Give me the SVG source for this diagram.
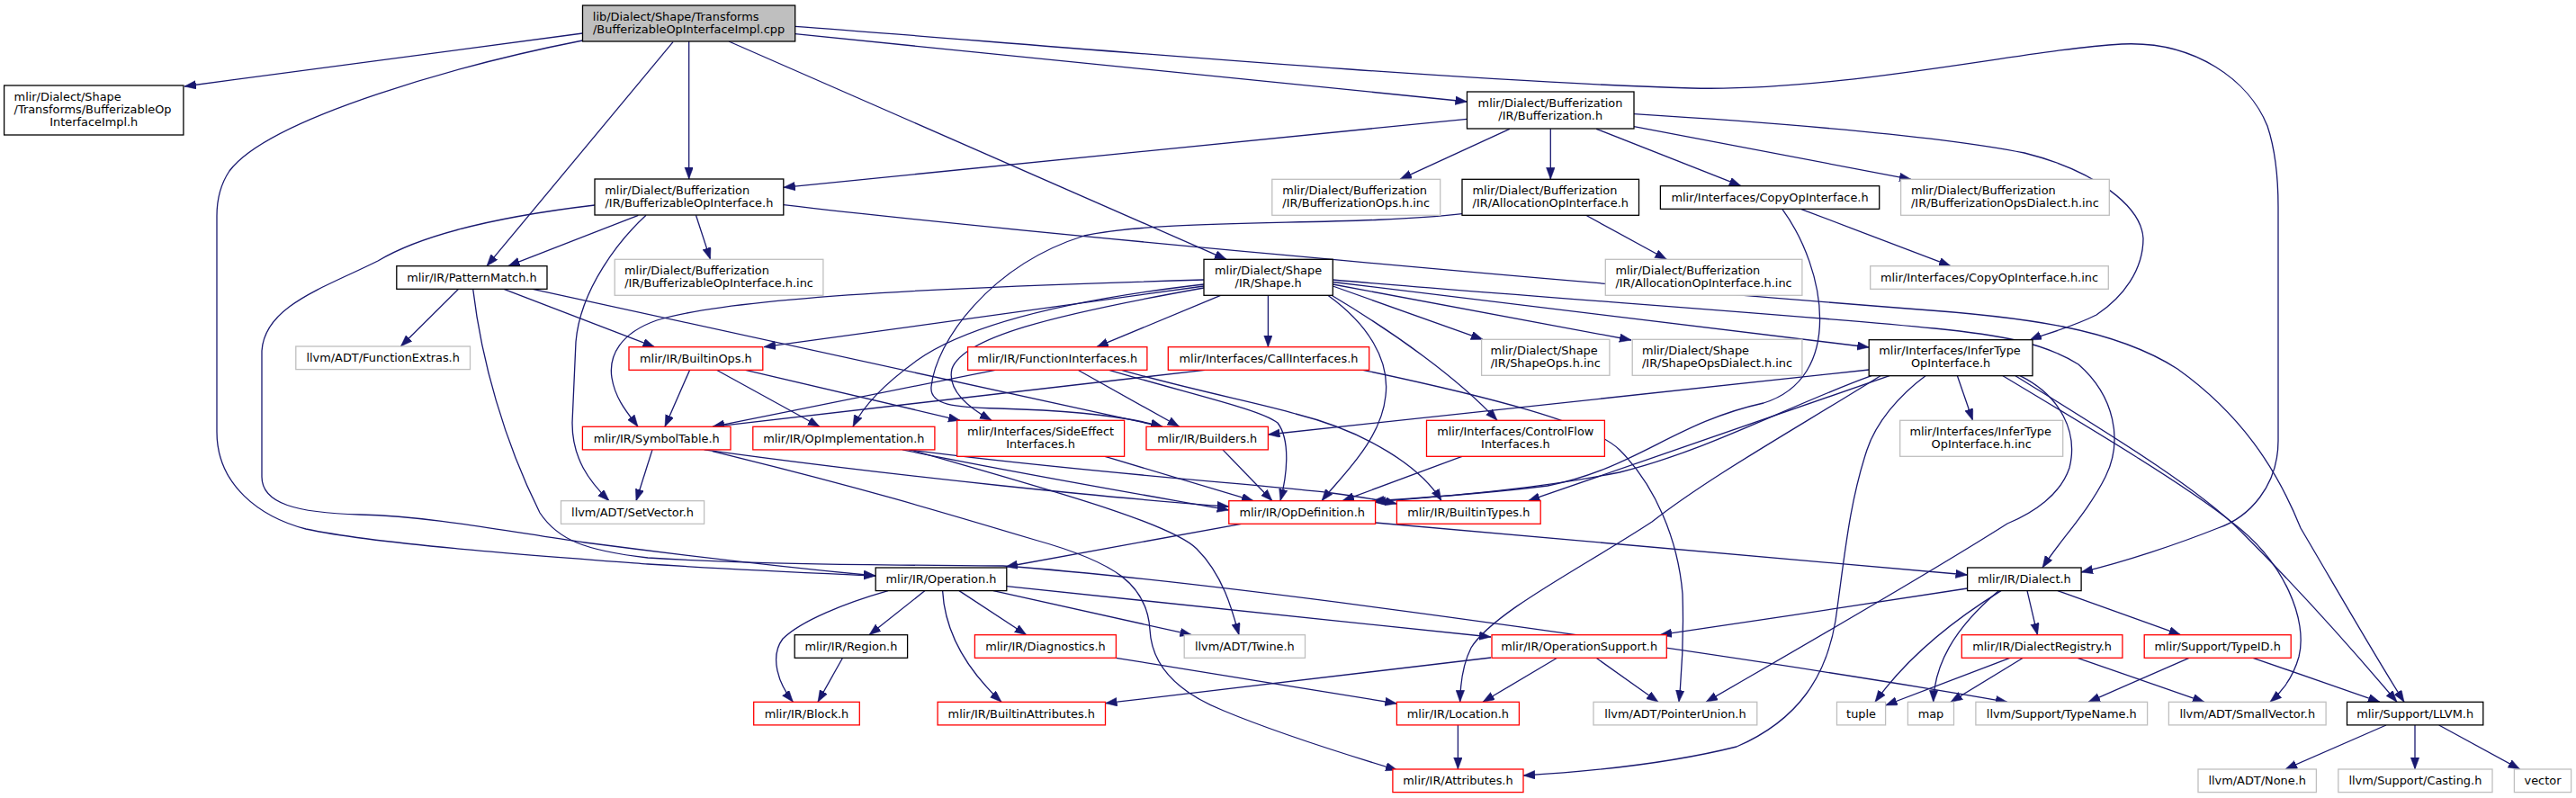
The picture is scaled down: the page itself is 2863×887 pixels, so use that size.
<svg xmlns="http://www.w3.org/2000/svg" width="2863" height="887" viewBox="0 0 2863 887">
<style>
rect.b{fill:#fff;stroke:#000;stroke-width:1.3}
rect.r{fill:#fff;stroke:#ff0000;stroke-width:1.3}
rect.g{fill:#fff;stroke:#bfbfbf;stroke-width:1.3}
rect.root{fill:#bfbfbf;stroke:#000;stroke-width:1.3}
text{font-family:"DejaVu Sans","Liberation Sans",sans-serif;font-size:12.9px;fill:#000}
text.c{text-anchor:middle}
.e path{fill:none;stroke:#191970;stroke-width:1.3;marker-end:url(#ah)}
</style>
<defs>
<marker id="ah" markerUnits="userSpaceOnUse" markerWidth="13" markerHeight="10" refX="13" refY="4.75" orient="auto">
<path d="M0,0 L13,4.75 L0,9.5 Z" fill="#191970" stroke="#191970" stroke-width="0.5"/>
</marker>
</defs>
<rect x="0" y="0" width="2863" height="887" fill="#fff"/>
<g class="e" id="connectors">
<path d="M647.5,37 L205,96"/>
<path d="M647.5,45 C520,70 300,130 255,190 C245,205 241,220 241,240 L241,480 C241,540 290,575 340,588 C420,605 600,618 720,627 C830,634 930,638 973,640"/>
<path d="M748,46.7 L541,295.7"/>
<path d="M765.7,46 L765.7,199"/>
<path d="M810,46 L1363,288.3"/>
<path d="M883.7,37.7 L1630.5,113"/>
<path d="M883.7,29.3 C1100,45 1600,90 1880,98 C2050,102 2250,55 2358,49 C2440,45 2500,90 2520,140 C2530,170 2532,200 2532,230 L2532,490 C2532,540 2500,575 2465,587 C2420,605 2360,625 2313,636"/>
<path d="M1630.5,132.3 L870.8,208.3"/>
<path d="M1677.8,143.3 L1556,199.3"/>
<path d="M1723.3,143.3 L1723.3,199.3"/>
<path d="M1774.2,143.3 L1935,206.7"/>
<path d="M1816,140.7 L2124,199.3"/>
<path d="M1816,126.7 C1950,135 2150,150 2250,170 C2330,190 2380,230 2382,265 C2382,300 2360,330 2330,350 C2300,365 2270,372 2256,378"/>
<path d="M709.4,239.3 L564.8,295.7"/>
<path d="M773.5,239.3 L789.5,288.3"/>
<path d="M870.8,227.7 C1100,255 1700,310 2120,343 C2250,352 2350,365 2420,410 C2490,460 2530,520 2557,587 C2600,660 2640,730 2672,780.3"/>
<path d="M718,239.3 C690,265 645,320 640,380 L636,470 C636,510 655,535 677,556.7"/>
<path d="M661,228 C560,240 470,260 420,290 C360,320 294,340 291,390 L291,530 C291,560 330,570 400,572 C480,574 560,590 650,603 C780,620 900,633 973,640"/>
<path d="M509.6,321.3 L445.4,385"/>
<path d="M560,321.3 L727.5,385.7"/>
<path d="M592,321.3 L1292,474.3"/>
<path d="M525.7,321.3 C535,400 560,490 600,570 C620,600 650,612 720,620 C850,628 1000,628 1115,629 C1400,650 2000,740 2231,780.3"/>
<path d="M1338,311 C1100,318 820,328 730,356 C690,370 676,395 680,420 C684,445 700,462 709,474.3"/>
<path d="M1338,318 L849,385.7"/>
<path d="M1338,316 C1200,332 1080,358 1020,400 C985,425 960,450 948,474.3"/>
<path d="M1338,320 C1170,350 1070,375 1058,410 C1052,435 1080,455 1102,467.3"/>
<path d="M1356.6,328.3 L1218.8,385.7"/>
<path d="M1409.4,328.3 L1409.4,385.7"/>
<path d="M1481.3,318 L1648,377.3"/>
<path d="M1481.3,316 L1813,378"/>
<path d="M1481.3,313.5 L2077.2,386"/>
<path d="M1481.3,311 C1700,330 2000,350 2150,365 C2220,372 2270,380 2310,405 C2350,440 2360,490 2340,530 C2320,570 2290,600 2270,631"/>
<path d="M1475.8,328.3 C1520,360 1545,400 1540,440 C1535,490 1490,530 1469,556.7"/>
<path d="M1480,328.3 C1550,370 1620,420 1664,467.3"/>
<path d="M1762.7,239.3 L1852.3,288.3"/>
<path d="M1625,237.7 C1500,252 1300,242 1205,262 C1100,295 1040,380 1035,430 C1033,450 1060,453 1110,454 C1180,456 1250,462 1292,474.3"/>
<path d="M2001.5,232.3 L2168,295.7"/>
<path d="M1980.8,232.3 C2030,300 2050,420 1960,448 C1860,470 1820,520 1720,540 C1640,550 1570,554 1525,557"/>
<path d="M2077.2,411 L1409.4,483"/>
<path d="M2080,417.7 C1990,450 1900,500 1800,525 C1700,545 1600,552 1527,558"/>
<path d="M2100,417.7 L1698.5,556.7"/>
<path d="M2090,417.7 C1990,480 1900,530 1836,580 C1760,630 1660,680 1635,720 C1625,740 1623,760 1622.7,780.3"/>
<path d="M2245,417.7 C2290,440 2310,480 2300,520 C2290,550 2260,570 2231,582 C2140,640 2000,720 1896,780.3"/>
<path d="M2140,417.7 C2110,440 2085,470 2075,500 C2055,560 2050,620 2040,690 C2030,750 2000,800 1930,830 C1850,850 1760,858 1693,862"/>
<path d="M2175.4,417.7 L2192.5,467.3"/>
<path d="M2226,417.7 C2330,480 2430,540 2480,580 C2540,625 2565,690 2555,730 C2548,755 2535,770 2523,780.3"/>
<path d="M2240,417.7 C2340,480 2440,540 2490,590 C2560,660 2630,740 2664,780.3"/>
<path d="M1106,411.3 L792,474.3"/>
<path d="M1198,411.3 L1310.7,474.3"/>
<path d="M1232.6,411.3 C1330,440 1400,455 1420,470 C1435,490 1430,530 1423,556.7"/>
<path d="M1246.4,411.3 C1330,435 1400,448 1440,460 C1520,480 1580,520 1602,556.7"/>
<path d="M1339,411.3 L792,474.3"/>
<path d="M1514.8,411.3 C1650,440 1770,470 1800,500 C1840,540 1865,600 1870,660 C1872,720 1868,760 1866,780.3"/>
<path d="M766.6,411.3 L739,474.3"/>
<path d="M796.4,411.3 L911,474.3"/>
<path d="M828.6,411.3 L1067,467.3"/>
<path d="M725,499.9 L707,556.7"/>
<path d="M782.6,499.9 C1000,530 1250,555 1365.8,563"/>
<path d="M791.8,501.7 C950,540 1050,570 1150,600 C1240,625 1275,650 1278,700 C1280,740 1310,770 1360,790 C1420,815 1500,840 1553,856"/>
<path d="M1003,499.9 C1150,530 1300,555 1365.8,567"/>
<path d="M1010,499.9 C1200,525 1420,540 1480,548 C1510,552 1535,556 1552.4,560"/>
<path d="M1012,499.9 C1150,540 1300,580 1330,610 C1360,640 1370,680 1377,705.7"/>
<path d="M1228,507.3 L1393,556.7"/>
<path d="M1359,499.9 L1414,556.7"/>
<path d="M1625,507.3 L1492,556.7"/>
<path d="M1379.6,582.3 L1118,630"/>
<path d="M1528.6,581 L2186.6,639"/>
<path d="M987,656.6 C940,670 890,690 870,710 C855,730 865,760 881.4,780.3"/>
<path d="M1028,656.6 L966,705.7"/>
<path d="M1047.6,656.6 C1050,700 1070,740 1113,780.3"/>
<path d="M1066,656.6 L1140.8,705.7"/>
<path d="M1104,656.6 L1324.5,705.7"/>
<path d="M1118.8,651.7 L1657,708"/>
<path d="M936.5,731.3 L909,780.3"/>
<path d="M1240.4,731.3 L1552.4,782"/>
<path d="M1657,731 L1228.5,781.7"/>
<path d="M1730.6,731.3 L1648,780.3"/>
<path d="M1774,731.3 L1843,780.3"/>
<path d="M1620.4,806 L1620.4,855"/>
<path d="M2186.6,654 C2100,668 1950,690 1845,705.7"/>
<path d="M2224,656.6 C2170,690 2120,730 2084,780.3"/>
<path d="M2221.6,656.6 C2170,700 2150,740 2148.7,780.3"/>
<path d="M2253,656.6 L2264.5,705.7"/>
<path d="M2287,656.6 L2423.6,705.7"/>
<path d="M2233.8,731.3 L2095.6,784"/>
<path d="M2248.4,731.3 L2168,780.3"/>
<path d="M2309,731.3 L2450,780.3"/>
<path d="M2433,731.3 L2321,780.3"/>
<path d="M2504,731.3 L2645,780.3"/>
<path d="M2652,806 L2540,855"/>
<path d="M2684,806 L2684,855"/>
<path d="M2710.7,806 L2800.7,855"/>
</g>
<g id="n_root"><rect class="root" x="647.5" y="6" width="236.2" height="40"/><text x="658.8" y="22.5">lib/Dialect/Shape/Transforms</text><text class="c" x="765.6" y="36.5">/BufferizableOpInterfaceImpl.cpp</text></g>
<g id="n_impl"><rect class="b" x="4.6" y="95" width="199.3" height="55"/><text x="15.6" y="112">mlir/Dialect/Shape</text><text x="15.6" y="126">/Transforms/BufferizableOp</text><text class="c" x="104.25" y="140">InterfaceImpl.h</text></g>
<g id="n_buf"><rect class="b" x="1630.5" y="102" width="185.5" height="41"/><text x="1642.6" y="119">mlir/Dialect/Bufferization</text><text class="c" x="1723.25" y="133">/IR/Bufferization.h</text></g>
<g id="n_boi"><rect class="b" x="661" y="199" width="209.8" height="40"/><text x="672.3" y="215.5">mlir/Dialect/Bufferization</text><text class="c" x="765.9" y="229.5">/IR/BufferizableOpInterface.h</text></g>
<g id="n_bufops_inc"><rect class="g" x="1413.8" y="199.3" width="186.9" height="40"/><text x="1425.2" y="215.8">mlir/Dialect/Bufferization</text><text class="c" x="1507.25" y="229.8">/IR/BufferizationOps.h.inc</text></g>
<g id="n_alloc"><rect class="b" x="1625" y="199.3" width="196.5" height="40"/><text x="1636.5" y="215.8">mlir/Dialect/Bufferization</text><text class="c" x="1723.25" y="229.8">/IR/AllocationOpInterface.h</text></g>
<g id="n_copy"><rect class="b" x="1845.4" y="206.7" width="243.3" height="25.6"/><text class="c" x="1967.05" y="224">mlir/Interfaces/CopyOpInterface.h</text></g>
<g id="n_bufdialect_inc"><rect class="g" x="2112.6" y="199.3" width="231.7" height="40"/><text x="2123.9" y="215.8">mlir/Dialect/Bufferization</text><text class="c" x="2228.45" y="229.8">/IR/BufferizationOpsDialect.h.inc</text></g>
<g id="n_pm"><rect class="b" x="440.8" y="295.7" width="167.2" height="25.6"/><text class="c" x="524.4" y="313">mlir/IR/PatternMatch.h</text></g>
<g id="n_boi_inc"><rect class="g" x="683.2" y="288.3" width="231.7" height="40"/><text x="694" y="304.8">mlir/Dialect/Bufferization</text><text class="c" x="799.05" y="318.8">/IR/BufferizableOpInterface.h.inc</text></g>
<g id="n_shape"><rect class="b" x="1338" y="288.3" width="143.3" height="40"/><text x="1350" y="304.8">mlir/Dialect/Shape</text><text class="c" x="1409.65" y="318.8">/IR/Shape.h</text></g>
<g id="n_alloc_inc"><rect class="g" x="1784.3" y="288.3" width="218.6" height="40"/><text x="1795.4" y="304.8">mlir/Dialect/Bufferization</text><text class="c" x="1893.6" y="318.8">/IR/AllocationOpInterface.h.inc</text></g>
<g id="n_copy_inc"><rect class="g" x="2078.7" y="295.7" width="264.6" height="25.6"/><text class="c" x="2211" y="313">mlir/Interfaces/CopyOpInterface.h.inc</text></g>
<g id="n_fextras"><rect class="g" x="328.8" y="385" width="193.7" height="25.6"/><text class="c" x="425.65" y="402.3">llvm/ADT/FunctionExtras.h</text></g>
<g id="n_builtinops"><rect class="r" x="699" y="385.7" width="148.8" height="25.6"/><text class="c" x="773.4" y="403">mlir/IR/BuiltinOps.h</text></g>
<g id="n_funcif"><rect class="r" x="1075.6" y="385.7" width="199.3" height="25.6"/><text class="c" x="1175.25" y="403">mlir/IR/FunctionInterfaces.h</text></g>
<g id="n_callif"><rect class="r" x="1298.3" y="385.7" width="223.4" height="25.6"/><text class="c" x="1410" y="403">mlir/Interfaces/CallInterfaces.h</text></g>
<g id="n_shapeops_inc"><rect class="g" x="1646.6" y="377.3" width="142.3" height="40"/><text x="1656.6" y="393.8">mlir/Dialect/Shape</text><text class="c" x="1717.75" y="407.8">/IR/ShapeOps.h.inc</text></g>
<g id="n_shapedialect_inc"><rect class="g" x="1814.2" y="377.3" width="188.7" height="40"/><text x="1824.9" y="393.8">mlir/Dialect/Shape</text><text class="c" x="1908.55" y="407.8">/IR/ShapeOpsDialect.h.inc</text></g>
<g id="n_infer"><rect class="b" x="2077.2" y="377.7" width="181.8" height="40"/><text x="2088.3" y="394.2">mlir/Interfaces/InferType</text><text class="c" x="2168.1" y="408.2">OpInterface.h</text></g>
<g id="n_symtab"><rect class="r" x="647.4" y="474.3" width="164.6" height="25.6"/><text class="c" x="729.7" y="491.6">mlir/IR/SymbolTable.h</text></g>
<g id="n_opimpl"><rect class="r" x="836.8" y="474.3" width="202.1" height="25.6"/><text class="c" x="937.85" y="491.6">mlir/IR/OpImplementation.h</text></g>
<g id="n_sideeff"><rect class="r" x="1063.7" y="467.3" width="185.9" height="40"/><text x="1075" y="483.8">mlir/Interfaces/SideEffect</text><text class="c" x="1156.65" y="497.8">Interfaces.h</text></g>
<g id="n_builders"><rect class="r" x="1274" y="474.3" width="135.4" height="25.6"/><text class="c" x="1341.7" y="491.6">mlir/IR/Builders.h</text></g>
<g id="n_cflow"><rect class="r" x="1585.5" y="467.3" width="197.9" height="40"/><text x="1597.2" y="483.8">mlir/Interfaces/ControlFlow</text><text class="c" x="1684.45" y="497.8">Interfaces.h</text></g>
<g id="n_infer_inc"><rect class="g" x="2111.7" y="467.3" width="181" height="40"/><text x="2122.4" y="483.8">mlir/Interfaces/InferType</text><text class="c" x="2202.2" y="497.8">OpInterface.h.inc</text></g>
<g id="n_setvec"><rect class="g" x="623.5" y="556.7" width="159.1" height="25.6"/><text class="c" x="703.05" y="574">llvm/ADT/SetVector.h</text></g>
<g id="n_opdef"><rect class="r" x="1365.8" y="556.7" width="162.8" height="25.6"/><text class="c" x="1447.2" y="574">mlir/IR/OpDefinition.h</text></g>
<g id="n_btypes"><rect class="r" x="1552.4" y="556.7" width="159.8" height="25.6"/><text class="c" x="1632.3" y="574">mlir/IR/BuiltinTypes.h</text></g>
<g id="n_operation"><rect class="b" x="973.2" y="631" width="145.6" height="25.6"/><text class="c" x="1046" y="648.3">mlir/IR/Operation.h</text></g>
<g id="n_dialect"><rect class="b" x="2186.6" y="631" width="126.5" height="25.6"/><text class="c" x="2249.85" y="648.3">mlir/IR/Dialect.h</text></g>
<g id="n_region"><rect class="b" x="883.2" y="705.7" width="125.4" height="25.6"/><text class="c" x="945.9" y="723">mlir/IR/Region.h</text></g>
<g id="n_diag"><rect class="r" x="1083.4" y="705.7" width="157" height="25.6"/><text class="c" x="1161.9" y="723">mlir/IR/Diagnostics.h</text></g>
<g id="n_twine"><rect class="g" x="1316.2" y="705.7" width="134.3" height="25.6"/><text class="c" x="1383.35" y="723">llvm/ADT/Twine.h</text></g>
<g id="n_opsupport"><rect class="r" x="1658" y="705.7" width="194.3" height="25.6"/><text class="c" x="1755.15" y="723">mlir/IR/OperationSupport.h</text></g>
<g id="n_dreg"><rect class="r" x="2180.3" y="705.7" width="178.6" height="25.6"/><text class="c" x="2269.6" y="723">mlir/IR/DialectRegistry.h</text></g>
<g id="n_typeid"><rect class="r" x="2383.2" y="705.7" width="163" height="25.6"/><text class="c" x="2464.7" y="723">mlir/Support/TypeID.h</text></g>
<g id="n_block"><rect class="r" x="837.7" y="780.3" width="117.6" height="25.6"/><text class="c" x="896.5" y="797.6">mlir/IR/Block.h</text></g>
<g id="n_battrs"><rect class="r" x="1042.1" y="780.3" width="186.4" height="25.6"/><text class="c" x="1135.3" y="797.6">mlir/IR/BuiltinAttributes.h</text></g>
<g id="n_location"><rect class="r" x="1552.4" y="780.3" width="136" height="25.6"/><text class="c" x="1620.4" y="797.6">mlir/IR/Location.h</text></g>
<g id="n_punion"><rect class="g" x="1771" y="780.3" width="181.8" height="25.6"/><text class="c" x="1861.9" y="797.6">llvm/ADT/PointerUnion.h</text></g>
<g id="n_tuple"><rect class="g" x="2041.5" y="780.3" width="54.1" height="25.6"/><text class="c" x="2068.55" y="797.6">tuple</text></g>
<g id="n_map"><rect class="g" x="2120.4" y="780.3" width="51.1" height="25.6"/><text class="c" x="2145.95" y="797.6">map</text></g>
<g id="n_typename"><rect class="g" x="2195.9" y="780.3" width="190.7" height="25.6"/><text class="c" x="2291.25" y="797.6">llvm/Support/TypeName.h</text></g>
<g id="n_smallvec"><rect class="g" x="2410.4" y="780.3" width="174.7" height="25.6"/><text class="c" x="2497.75" y="797.6">llvm/ADT/SmallVector.h</text></g>
<g id="n_llvm"><rect class="b" x="2608.5" y="780.3" width="151.3" height="25.6"/><text class="c" x="2684.15" y="797.6">mlir/Support/LLVM.h</text></g>
<g id="n_attrs"><rect class="r" x="1547.9" y="855" width="145.1" height="25.6"/><text class="c" x="1620.45" y="872.3">mlir/IR/Attributes.h</text></g>
<g id="n_none"><rect class="g" x="2443" y="855" width="131.4" height="25.6"/><text class="c" x="2508.7" y="872.3">llvm/ADT/None.h</text></g>
<g id="n_casting"><rect class="g" x="2598.8" y="855" width="171.2" height="25.6"/><text class="c" x="2684.4" y="872.3">llvm/Support/Casting.h</text></g>
<g id="n_vector"><rect class="g" x="2794.4" y="855" width="63.2" height="25.6"/><text class="c" x="2826" y="872.3">vector</text></g>
</svg>
